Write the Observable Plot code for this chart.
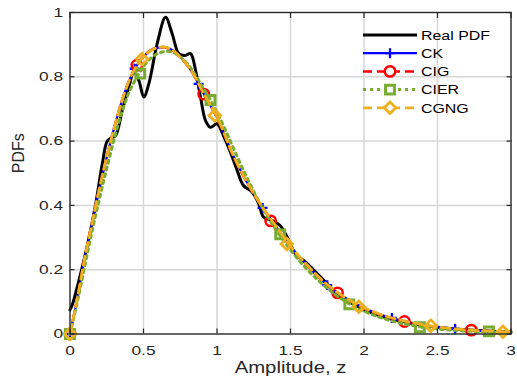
<!DOCTYPE html>
<html><head><meta charset="utf-8">
<script src="https://cdn.jsdelivr.net/npm/d3@7"></script>
<script src="https://cdn.jsdelivr.net/npm/@observablehq/plot@0.6"></script>
<style>body{margin:0;background:#fff}#chart{width:517px;height:383px}</style>
</head><body><div id="chart"></div>
<script>
// ---- data ----
const xTicks = [0, 0.5, 1, 1.5, 2, 2.5, 3];
const xTickLabels = ["0", "0.5", "1", "1.5", "2", "2.5", "3"];
const yTicks = [0, 0.2, 0.4, 0.6, 0.8, 1];
const yTickLabels = ["0", "0.2", "0.4", "0.6", "0.8", "1"];
const seriesNames = ["Real PDF", "CK", "CIG", "CIER", "CGNG"];
const seriesColors = ["#000000", "#0000ff", "#ff0000", "#77ac30", "#edb120"];
const xLabel = "Amplitude, z";
const yLabel = "PDFs";

const realX = [0, 0.015, 0.06, 0.12, 0.173, 0.22, 0.253, 0.28, 0.31, 0.355, 0.40, 0.434, 0.468, 0.502, 0.536, 0.593, 0.65, 0.695, 0.74, 0.779, 0.82, 0.854, 0.888, 0.922, 0.956, 1.0, 1.05, 1.092, 1.137, 1.18, 1.24, 1.284, 1.318, 1.376, 1.43, 1.478, 1.534, 1.6, 1.66, 1.75, 1.8, 1.9, 2.0, 2.1, 2.2, 2.4, 2.6, 2.8, 3.0];
const realY = [0.075, 0.09, 0.165, 0.28, 0.40, 0.53, 0.60, 0.61, 0.617, 0.695, 0.768, 0.814, 0.789, 0.737, 0.778, 0.903, 0.985, 0.934, 0.872, 0.866, 0.872, 0.82, 0.737, 0.664, 0.643, 0.654, 0.61, 0.565, 0.509, 0.462, 0.441, 0.405, 0.363, 0.353, 0.337, 0.301, 0.249, 0.225, 0.198, 0.156, 0.133, 0.1, 0.075, 0.058, 0.045, 0.027, 0.016, 0.01, 0.006];

const modelX = [0, 0.05, 0.1, 0.15, 0.2, 0.25, 0.3, 0.35, 0.4, 0.45, 0.5, 0.55, 0.6, 0.65, 0.7, 0.75, 0.8, 0.85, 0.9, 0.95, 1.0, 1.05, 1.1, 1.2, 1.3, 1.4, 1.5, 1.6, 1.7, 1.8, 1.9, 2.0, 2.1, 2.2, 2.3, 2.4, 2.5, 2.6, 2.7, 2.8, 2.9, 3.0];
const ckY   = [0, 0.11, 0.235, 0.345, 0.452, 0.55, 0.64, 0.72, 0.785, 0.832, 0.863, 0.882, 0.891, 0.892, 0.882, 0.862, 0.835, 0.80, 0.755, 0.715, 0.674, 0.622, 0.565, 0.475, 0.40, 0.335, 0.272, 0.22, 0.173, 0.135, 0.105, 0.081, 0.062, 0.048, 0.037, 0.028, 0.022, 0.017, 0.013, 0.01, 0.008, 0.006];
const cigY  = [0, 0.112, 0.237, 0.347, 0.454, 0.552, 0.641, 0.721, 0.786, 0.833, 0.864, 0.883, 0.891, 0.891, 0.881, 0.861, 0.834, 0.799, 0.754, 0.714, 0.673, 0.621, 0.564, 0.474, 0.399, 0.334, 0.271, 0.219, 0.172, 0.134, 0.104, 0.08, 0.061, 0.047, 0.037, 0.028, 0.021, 0.016, 0.012, 0.01, 0.008, 0.006];
const cierY = [0, 0.10, 0.21, 0.32, 0.42, 0.515, 0.605, 0.685, 0.75, 0.795, 0.832, 0.858, 0.873, 0.879, 0.876, 0.862, 0.84, 0.808, 0.77, 0.732, 0.69, 0.642, 0.59, 0.49, 0.40, 0.325, 0.262, 0.207, 0.162, 0.124, 0.094, 0.071, 0.053, 0.039, 0.029, 0.021, 0.016, 0.012, 0.009, 0.007, 0.005, 0.004];
const cgngY = [0, 0.111, 0.236, 0.346, 0.453, 0.551, 0.64, 0.72, 0.785, 0.832, 0.863, 0.882, 0.891, 0.892, 0.882, 0.862, 0.835, 0.80, 0.756, 0.716, 0.675, 0.623, 0.566, 0.476, 0.401, 0.336, 0.273, 0.221, 0.174, 0.136, 0.105, 0.082, 0.063, 0.049, 0.038, 0.029, 0.022, 0.017, 0.013, 0.01, 0.008, 0.006];

const ckMarkX   = [0, 0.44, 0.875, 1.31, 1.75, 2.19, 2.62];
const ckMarkY   = [0, 0.825, 0.778, 0.392, 0.152, 0.05, 0.016];
const cigMarkX  = [0, 0.455, 0.91, 1.365, 1.82, 2.275, 2.73];
const cigMarkY  = [0, 0.836, 0.746, 0.352, 0.128, 0.039, 0.012];
const cierMarkX = [0, 0.478, 0.956, 1.43, 1.9, 2.38, 2.85];
const cierMarkY = [0, 0.81, 0.728, 0.31, 0.092, 0.021, 0.008];
const cgngMarkX = [0, 0.49, 0.985, 1.475, 1.965, 2.455, 2.945];
const cgngMarkY = [0, 0.855, 0.68, 0.28, 0.085, 0.026, 0.007];

// ---- build ----
const pts = (xs, ys) => xs.map((x, i) => ({x, y: ys[i]}));
const font = "'Liberation Sans', Arial, Helvetica, sans-serif";
const [cBlack, cBlue, cRed, cGreen, cOrange] = seriesColors;

const styles = [
  {stroke: cBlack, strokeWidth: 3, dash: null, symbol: null},
  {stroke: cBlue, strokeWidth: 2.3, dash: null, symbol: "plus", r: 3.3},
  {stroke: cRed, strokeWidth: 2.5, dash: "9,5", symbol: "circle", r: 5.2},
  {stroke: cGreen, strokeWidth: 3, dash: "3,4", symbol: "square", r: 5},
  {stroke: cOrange, strokeWidth: 2.8, dash: "9,5", symbol: "diamond2", r: 5.2}
];

const lineMark = (data, s) => Plot.line(data, {x: "x", y: "y", stroke: s.stroke, strokeWidth: s.strokeWidth, strokeDasharray: s.dash, curve: "catmull-rom"});
const dotMark = (data, s) => Plot.dot(data, {x: "x", y: "y", symbol: s.symbol, r: s.r, stroke: s.stroke, strokeWidth: s.strokeWidth, fill: "none"});

const plot = Plot.plot({
  width: 517, height: 383,
  marginLeft: 69.5, marginRight: 6.5, marginTop: 12, marginBottom: 49.5,
  x: {domain: [0, 3]},
  y: {domain: [0, 1]},
  style: {fontFamily: font, fontSize: "13.5px", color: "#262626", background: "#fff"},
  marks: [
    Plot.gridX(xTicks, {stroke: "#d6d6d6", strokeOpacity: 1, strokeWidth: 1.5}),
    Plot.gridY(yTicks, {stroke: "#d6d6d6", strokeOpacity: 1, strokeWidth: 1.5}),
    lineMark(pts(realX, realY), styles[0]),
    lineMark(pts(modelX, ckY), styles[1]),
    dotMark(pts(ckMarkX, ckMarkY), styles[1]),
    lineMark(pts(modelX, cigY), styles[2]),
    dotMark(pts(cigMarkX, cigMarkY), styles[2]),
    lineMark(pts(modelX, cierY), styles[3]),
    dotMark(pts(cierMarkX, cierMarkY), styles[3]),
    lineMark(pts(modelX, cgngY), styles[4]),
    dotMark(pts(cgngMarkX, cgngMarkY), styles[4]),
    Plot.frame({stroke: "#262626", strokeWidth: 1.3}),
    Plot.axisX(xTicks, {anchor: "bottom", tickSize: -5, tickPadding: 16, strokeWidth: 1.2,
      tickFormat: d => xTickLabels[xTicks.indexOf(d)], label: null}),
    Plot.axisX(xTicks, {anchor: "top", tickSize: -5, strokeWidth: 1.2, tickFormat: () => "", label: null}),
    Plot.axisY(yTicks, {anchor: "left", tickSize: -5, tickPadding: 12, strokeWidth: 1.2,
      tickFormat: d => yTickLabels[yTicks.indexOf(d)], label: null}),
    Plot.axisY(yTicks, {anchor: "right", tickSize: -5, strokeWidth: 1.2, tickFormat: () => "", label: null}),
    Plot.text([xLabel], {frameAnchor: "bottom", dy: 39, fontSize: 16, fill: "#262626"}),
    Plot.text([yLabel], {frameAnchor: "left", dx: -51, rotate: -90, fontSize: 16, fill: "#262626"})
  ]
});

// the reference's lettering is horizontally widened
const svg = d3.select(plot);
svg.selectAll("text").each(function () {
  const txt = this.textContent;
  if (txt === yLabel || txt === "") return;
  const sx = txt === xLabel ? 1.27 : 1.28;
  const t = this.getAttribute("transform") || "";
  if (t) this.setAttribute("transform", t + ` scale(${sx},1)`);
});

// ---- legend (inside the axes, top-right) ----
const lg = svg.append("g").attr("font-family", font).attr("font-size", 13.5).attr("text-anchor", "start");
const typeMap = {plus: d3.symbolPlus, circle: d3.symbolCircle, square: d3.symbolSquare, diamond2: d3.symbolDiamond2};
seriesNames.forEach((name, i) => {
  const s = styles[i];
  const y = 35 + i * 18.2;
  lg.append("line").attr("x1", 363).attr("x2", 417).attr("y1", y).attr("y2", y)
    .attr("stroke", s.stroke).attr("stroke-width", s.strokeWidth)
    .attr("stroke-dasharray", s.dash);
  if (s.symbol) {
    lg.append("path").attr("transform", `translate(390,${y})`)
      .attr("d", d3.symbol(typeMap[s.symbol], Math.PI * s.r * s.r)())
      .attr("fill", "#fff").attr("stroke", s.stroke).attr("stroke-width", s.strokeWidth);
  }
  lg.append("text").attr("transform", `translate(421,${y}) scale(1.18,1)`)
    .attr("dy", "0.35em").attr("fill", "#000").text(name);
});

document.getElementById("chart").appendChild(plot);
</script>
</body></html>
